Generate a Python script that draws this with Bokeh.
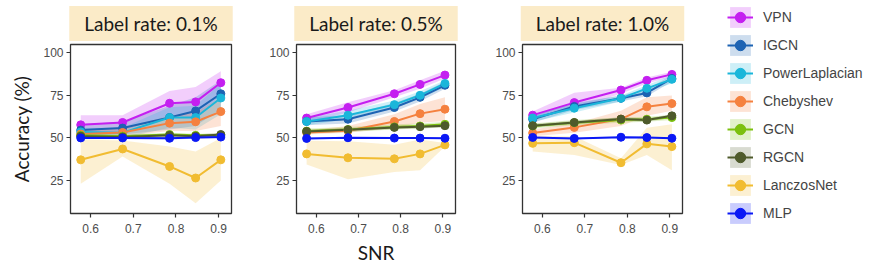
from bokeh.plotting import figure
from bokeh.models import Range1d, Title, Legend, LegendItem, FixedTicker
from bokeh.layouts import row
from bokeh.embed import file_html
from bokeh.resources import INLINE

# ---------------- data ----------------
snr = [0.577, 0.675, 0.785, 0.846, 0.905]
methods = ["VPN", "IGCN", "PowerLaplacian", "Chebyshev", "GCN", "RGCN", "LanczosNet", "MLP"]
colors = ["#c41ff0", "#1d63b3", "#1ab6da", "#f5813f", "#7cc00f", "#4e5a2b", "#f1bc31", "#0a18f5"]
panel_titles = ["Label rate: 0.1%", "Label rate: 0.5%", "Label rate: 1.0%"]
x_ticks = [0.6, 0.7, 0.8, 0.9]
y_ticks = [25, 50, 75, 100]

# label rate 0.1%
VPN_01 = [57.7, 59.1, 70.4, 71.2, 82.5]
VPN_01_LO = [52, 54, 63, 62, 75]
VPN_01_HI = [63.4, 63.4, 77.6, 80, 89.3]
IGCN_01 = [54.6, 55.8, 62, 65.9, 76]
IGCN_01_LO = [51, 52, 55, 57, 67]
IGCN_01_HI = [58, 59.5, 69, 74, 84]
PL_01 = [53.5, 53, 62, 62, 73.5]
PL_01_LO = [51, 50, 56, 55, 64]
PL_01_HI = [56, 56, 68, 69, 82]
CHEB_01 = [52.3, 53.2, 58.7, 59.5, 65.5]
CHEB_01_LO = [50, 51, 54, 54, 57]
CHEB_01_HI = [55, 55.5, 63, 65, 74]
GCN_01 = [51.5, 51, 52, 51.5, 51.5]
GCN_01_LO = [50.5, 50, 51, 50.5, 50.5]
GCN_01_HI = [52.5, 52, 53, 52.5, 52.5]
RGCN_01 = [51, 50.5, 51.5, 51, 52]
RGCN_01_LO = [50, 49.5, 50.5, 50, 51]
RGCN_01_HI = [52, 51.5, 52.5, 52, 53]
LAN_01 = [37.1, 43.5, 33.2, 26.4, 37.1]
LAN_01_LO = [23, 39, 23, 11.5, 25]
LAN_01_HI = [49, 48.5, 45, 42, 50]
MLP_01 = [50, 50, 49.8, 50.2, 50.5]
MLP_01_LO = [49.3, 49.3, 49.1, 49.5, 49.8]
MLP_01_HI = [50.7, 50.7, 50.5, 50.9, 51.2]

# label rate 0.5%
VPN_05 = [61.7, 67.9, 76, 81.5, 87]
VPN_05_LO = [59, 65, 74, 79, 85]
VPN_05_HI = [64, 71, 78, 84, 89.5]
IGCN_05 = [59.7, 61, 67.9, 73.9, 81]
IGCN_05_LO = [57.5, 58.5, 65.5, 71.5, 79]
IGCN_05_HI = [62, 63.5, 70.5, 76, 83]
PL_05 = [59.7, 63.4, 69.6, 75.1, 82.1]
PL_05_LO = [57.5, 61, 67.5, 73, 80]
PL_05_HI = [62, 66, 72, 77.5, 84]
CHEB_05 = [53.2, 54.2, 59.7, 64.3, 66.9]
CHEB_05_LO = [52, 53, 56, 59, 60]
CHEB_05_HI = [54.5, 57, 64, 70, 74]
GCN_05 = [54, 55, 56.5, 57, 58]
GCN_05_LO = [52.5, 53.5, 55, 55.5, 56.5]
GCN_05_HI = [55.5, 56.5, 58, 58.5, 59.5]
RGCN_05 = [53.8, 54.8, 56.2, 56.6, 57.2]
RGCN_05_LO = [52.8, 53.8, 55.2, 55.6, 56.2]
RGCN_05_HI = [54.8, 55.8, 57.2, 57.6, 58.2]
LAN_05 = [40.6, 38.3, 37.7, 40.6, 45.9]
LAN_05_LO = [34.4, 25.6, 29.9, 30.9, 45]
LAN_05_HI = [48.4, 48, 46, 49, 47]
MLP_05 = [49.7, 50.1, 49.9, 49.9, 49.8]
MLP_05_LO = [49.2, 49.6, 49.4, 49.4, 49.3]
MLP_05_HI = [50.2, 50.6, 50.4, 50.4, 50.3]

# label rate 1.0%
VPN_10 = [63.4, 70.8, 78.2, 83.9, 87.4]
VPN_10_LO = [61, 67, 76, 82, 86]
VPN_10_HI = [65.5, 76.6, 79.5, 85.5, 89]
IGCN_10 = [61, 68.5, 73.3, 76.5, 85]
IGCN_10_LO = [59, 66.5, 71.5, 74.5, 83]
IGCN_10_HI = [63, 70.5, 75, 78.5, 87]
PL_10 = [61.7, 67.5, 73.3, 79.2, 84.5]
PL_10_LO = [59.5, 65, 71.5, 77, 82]
PL_10_HI = [64, 70, 75, 81, 87]
CHEB_10 = [52.9, 56.2, 61.1, 68.3, 70.2]
CHEB_10_LO = [51, 53, 57, 63, 66]
CHEB_10_HI = [55, 58.5, 66, 74, 75]
GCN_10 = [57, 59, 60.5, 61, 62]
GCN_10_LO = [55.5, 57.5, 59, 59.5, 60.5]
GCN_10_HI = [58.5, 60.5, 62, 62.5, 63.5]
RGCN_10 = [57.2, 59.1, 61.1, 60.5, 63]
RGCN_10_LO = [56.2, 58.1, 60.1, 59.5, 62]
RGCN_10_HI = [58.2, 60.1, 62.1, 61.5, 64]
LAN_10 = [46.8, 47.2, 35.4, 46.5, 44.9]
LAN_10_LO = [42, 40, 34, 40, 31]
LAN_10_HI = [51, 51, 38, 56, 58]
MLP_10 = [50.3, 49.7, 50.4, 50.2, 49.8]
MLP_10_LO = [49.8, 49.2, 49.9, 49.7, 49.3]
MLP_10_HI = [50.8, 50.2, 50.9, 50.7, 50.3]

panel_data = [
    [(VPN_01, VPN_01_LO, VPN_01_HI), (IGCN_01, IGCN_01_LO, IGCN_01_HI), (PL_01, PL_01_LO, PL_01_HI),
     (CHEB_01, CHEB_01_LO, CHEB_01_HI), (GCN_01, GCN_01_LO, GCN_01_HI), (RGCN_01, RGCN_01_LO, RGCN_01_HI),
     (LAN_01, LAN_01_LO, LAN_01_HI), (MLP_01, MLP_01_LO, MLP_01_HI)],
    [(VPN_05, VPN_05_LO, VPN_05_HI), (IGCN_05, IGCN_05_LO, IGCN_05_HI), (PL_05, PL_05_LO, PL_05_HI),
     (CHEB_05, CHEB_05_LO, CHEB_05_HI), (GCN_05, GCN_05_LO, GCN_05_HI), (RGCN_05, RGCN_05_LO, RGCN_05_HI),
     (LAN_05, LAN_05_LO, LAN_05_HI), (MLP_05, MLP_05_LO, MLP_05_HI)],
    [(VPN_10, VPN_10_LO, VPN_10_HI), (IGCN_10, IGCN_10_LO, IGCN_10_HI), (PL_10, PL_10_LO, PL_10_HI),
     (CHEB_10, CHEB_10_LO, CHEB_10_HI), (GCN_10, GCN_10_LO, GCN_10_HI), (RGCN_10, RGCN_10_LO, RGCN_10_HI),
     (LAN_10, LAN_10_LO, LAN_10_HI), (MLP_10, MLP_10_LO, MLP_10_HI)],
]

# ---------------- style ----------------
TITLE_FONT = "Lato"
TICK_FONT = "Liberation Sans"
RIBBON_ALPHA = 0.22
H = 276
BORDER_TOP = 43
BORDER_BOTTOM = 63
LEFT_BORDERS = [70, 61, 63]
FRAME_WIDTHS = [161, 159, 160]
BORDER_RIGHT = 4

figs = []
for i, (title, data) in enumerate(zip(panel_titles, panel_data)):
    p = figure(width=LEFT_BORDERS[i] + FRAME_WIDTHS[i] + BORDER_RIGHT, height=H,
               output_backend="svg", toolbar_location=None,
               x_range=Range1d(0.553, 0.930), y_range=Range1d(5.5, 105),
               min_border_left=LEFT_BORDERS[i], min_border_right=BORDER_RIGHT,
               min_border_top=BORDER_TOP, min_border_bottom=BORDER_BOTTOM,
               title=None)
    p.background_fill_color = "white"
    p.border_fill_color = "white"
    p.outline_line_color = "#333333"
    p.outline_line_width = 1.3
    p.grid.visible = False

    for (m, lo, hi), c in zip(data, colors):
        p.varea(x=snr, y1=lo, y2=hi, fill_color=c, fill_alpha=RIBBON_ALPHA)
    for (m, lo, hi), c in zip(data, colors):
        p.line(x=snr, y=m, line_color=c, line_width=2)
    for (m, lo, hi), c in zip(data, colors):
        p.scatter(x=snr, y=m, size=8, fill_color=c, line_color=c)

    for ax in (p.xaxis[0], p.yaxis[0]):
        ax.axis_line_color = None
        ax.major_tick_line_color = "#333333"
        ax.major_tick_line_width = 1.2
        ax.major_tick_out = 4
        ax.major_tick_in = 0
        ax.minor_tick_line_color = None
        ax.major_label_text_color = "#4d4d4d"
        ax.major_label_text_font = TICK_FONT
        ax.major_label_text_font_size = "12px"
        ax.axis_label_text_font = TITLE_FONT
        ax.axis_label_text_font_size = "19px"
        ax.axis_label_text_font_style = "normal"
        ax.axis_label_text_color = "#1a1a1a"
    p.xaxis[0].major_label_standoff = 6
    p.yaxis[0].major_label_standoff = 3
    p.xaxis[0].ticker = FixedTicker(ticks=x_ticks)
    p.yaxis[0].ticker = FixedTicker(ticks=y_ticks)
    if i == 0:
        p.yaxis[0].axis_label = "Accuracy (%)"
        p.yaxis[0].axis_label_standoff = 7
    if i == 1:
        p.xaxis[0].axis_label = "SNR"
        p.xaxis[0].axis_label_standoff = 5

    t = Title(text=title, align="center", text_font=TITLE_FONT, text_font_size="19px",
              text_font_style="normal", text_color="#1a1a1a",
              background_fill_color="#fbebc8", padding=(15, 6), standoff=7)
    p.add_layout(t, "above")
    figs.append(p)

# ---------------- legend (own figure, no axes, no title) ----------------
lf = figure(width=186, height=H, output_backend="svg", toolbar_location=None,
            x_range=Range1d(0, 1), y_range=Range1d(0, 1),
            x_axis_type=None, y_axis_type=None, title=None,
            min_border_left=41, min_border_right=0, min_border_top=4, min_border_bottom=0)
try:
    lf.frame_align = False
except Exception:
    pass
lf.grid.visible = False
lf.outline_line_color = None
lf.background_fill_alpha = 0
items = []
for name, c in zip(methods, colors):
    r1 = lf.varea(x=[5, 6], y1=[5, 5], y2=[6, 6], fill_color=c, fill_alpha=RIBBON_ALPHA)
    r2 = lf.line(x=[5, 6], y=[5, 6], line_color=c, line_width=2)
    r3 = lf.scatter(x=[5, 6], y=[5, 6], size=7, fill_color=c, line_color=c)
    items.append(LegendItem(label=name, renderers=[r1, r2, r3]))
legend = Legend(items=items, location="top_left", glyph_width=26, glyph_height=26,
                spacing=2, padding=0, margin=0, border_line_color=None,
                background_fill_alpha=0, label_standoff=10, label_height=26,
                label_text_font=TICK_FONT, label_text_font_size="14px")
lf.add_layout(legend, "center")

layout = row(*figs, lf)
open("out.html", "w").write(file_html(layout, INLINE))
